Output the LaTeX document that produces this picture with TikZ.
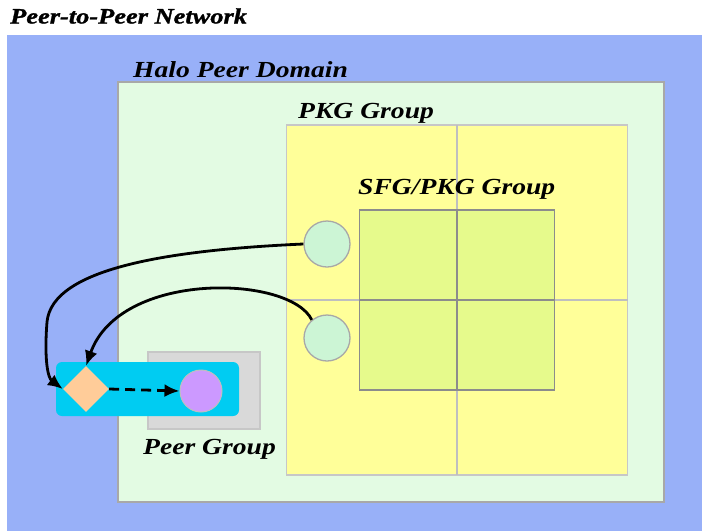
\documentclass[tikz,border=0pt]{standalone}
\usepackage{fontspec}
\setmainfont{Liberation Serif}[FakeStretch=1.2]
\newfontfamily\titlefont{Liberation Serif Bold Italic}[FakeStretch=1.2, FakeBold=1.2]
\usetikzlibrary{shapes.geometric,arrows.meta}

\definecolor{netblue}{HTML}{98B0F8}
\definecolor{halogreen}{HTML}{E3FBE3}
\definecolor{pkgyellow}{HTML}{FFFF99}
\definecolor{sfggreen}{HTML}{E6FA8C}
\definecolor{peermint}{HTML}{CCF5D5}
\definecolor{tiercyan}{HTML}{00CCF2}
\definecolor{peach}{HTML}{FFCC99}
\definecolor{lilac}{HTML}{CC99FF}
\definecolor{greybox}{HTML}{D9D9D9}
\definecolor{edgegrey}{HTML}{A8A8A8}

\tikzset{
  region/.style={draw=edgegrey, line width=1.4pt, inner sep=0pt, outer sep=0pt},
  gridline/.style={draw=#1, line width=1.1pt},
  peer/.style={circle, draw=edgegrey, line width=1.3pt, fill=peermint, minimum size=46pt, inner sep=0pt},
  heading/.style={font=\fontsize{23}{25}\selectfont\bfseries\itshape, anchor=west, inner sep=0pt},
  link/.style={line width=2.8pt, -{Latex[length=15pt,width=13pt]}},
}

\begin{document}
\begin{tikzpicture}[x=1pt,y=-1pt]
\useasboundingbox[fill=white] (0,0) rectangle (702,531);

% nested domains
\node[region, fill=netblue, draw=none, minimum width=695pt, minimum height=496pt] (net) at (354.5,283) {};
\node[region, fill=halogreen, minimum width=546pt, minimum height=420pt] (halo) at (391,292) {};
\node[region, fill=pkgyellow, draw=black!22, minimum width=341pt, minimum height=350pt] (pkg) at (457,300) {};
\draw[gridline=black!25] (pkg.north) -- (pkg.south);
\draw[gridline=black!25] (pkg.west) -- (pkg.east);
\node[region, fill=sfggreen, draw=black!45, minimum width=195pt, minimum height=180pt] (sfg) at (457,300) {};
\draw[gridline=black!45] (sfg.north) -- (sfg.south);
\draw[gridline=black!45] (sfg.west) -- (sfg.east);

% peer group
\node[region, fill=greybox, draw=black!22, minimum width=112pt, minimum height=77pt] (pgroup) at (204,390.5) {};
\node[fill=tiercyan, rounded corners=6pt, minimum width=183pt, minimum height=54pt, inner sep=0pt] (tier) at (147.5,389) {};
\node[diamond, fill=peach, minimum width=46pt, minimum height=46pt, inner sep=0pt] (rdv) at (86,389) {};
\node[circle, fill=lilac, draw=black!25, line width=1pt, minimum size=42pt, inner sep=0pt] (edge) at (201,391) {};

% PKG peers
\node[peer] (p1) at (327,244) {};
\node[peer] (p2) at (327,338) {};

% labels
\node[heading, font=\fontsize{22}{24}\selectfont\titlefont] (tnet) at (10,16) {Peer-to-Peer Network};
\node[heading] (thalo) at (133,70) {Halo Peer Domain};
\node[heading] (tpkg) at (298,113) {PKG Group};
\node[heading] (tsfg) at (358,189) {SFG/PKG Group};
\node[heading] (tpeer) at (143,449) {Peer Group};

% connectors
\draw[link] (p1.west) .. controls (170,250) and (52,268) .. (47,322)
            .. controls (44,360) and (48,378) .. (rdv.west);
\draw[link] (p2.130) .. controls (290,275) and (120,270) .. (rdv.north);
\draw[link, dashed, dash pattern=on 10pt off 6pt] (rdv.east) -- (edge.west);
\end{tikzpicture}
\end{document}
